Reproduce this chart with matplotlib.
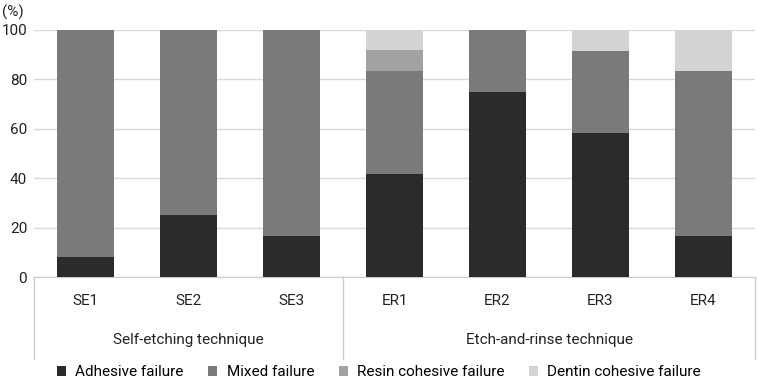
import matplotlib.pyplot as plt
import numpy as np
from matplotlib.transforms import blended_transform_factory

plt.rcParams['font.family'] = ['Roboto', 'DejaVu Sans']

# 数据
groups = ['SE1', 'SE2', 'SE3', 'ER1', 'ER2', 'ER3', 'ER4']
techniques = ['Self-etching technique', 'Etch-and-rinse technique']
technique_spans = [(0, 2), (3, 6)]
adhesive = [8.3, 25.0, 16.7, 41.7, 75.0, 58.3, 16.7]
mixed = [91.7, 75.0, 83.3, 41.7, 25.0, 33.3, 66.7]
resin = [0, 0, 0, 8.3, 0, 0, 0]
dentin = [0, 0, 0, 8.3, 0, 8.3, 16.7]
series = [('Adhesive failure', adhesive, '#2b2b2b'),
          ('Mixed failure', mixed, '#7a7a7c'),
          ('Resin cohesive failure', resin, '#a2a2a2'),
          ('Dentin cohesive failure', dentin, '#d3d3d3')]

fig = plt.figure(figsize=(7.58, 3.78), dpi=100)
ax = fig.add_axes([0.045, 0.267, 0.951, 0.654])

x = np.arange(len(groups))
bottom = np.zeros(len(groups))
for name, vals, col in series:
    ax.bar(x, vals, 0.55, bottom=bottom, color=col, label=name, zorder=3)
    bottom += np.array(vals)

ax.set_xlim(-0.5, len(groups) - 0.5)
ax.set_ylim(0, 100)
ax.set_yticks([0, 20, 40, 60, 80, 100])
ax.tick_params(axis='y', length=0, labelsize=11, colors='#222222', pad=5)
ax.grid(axis='y', color='#d9d9d9', linewidth=1, zorder=0)
for s in ['top', 'right', 'left']:
    ax.spines[s].set_visible(False)
ax.spines['bottom'].set_color('#cccccc')
ax.set_xticks([])

# 分组标签
trans = blended_transform_factory(ax.transData, ax.transAxes)
for i, g in enumerate(groups):
    ax.text(i, -0.095, g, transform=trans, ha='center', va='center',
            fontsize=11, color='#222222')
for t, (a, b) in zip(techniques, technique_spans):
    ax.text((a + b) / 2, -0.255, t, transform=trans, ha='center', va='center',
            fontsize=11, color='#222222')
for xs in [-0.5, 2.5, 6.5]:
    ax.plot([xs, xs], [0, -0.33], transform=trans, color='#cccccc',
            linewidth=1, clip_on=False)

ax.text(-0.045, 1.07, '(%)', transform=ax.transAxes, ha='left', va='center',
        fontsize=11, color='#222222')

fig.legend(loc='lower center', bbox_to_anchor=(0.5, -0.04), ncol=4,
           frameon=False, fontsize=11, handlelength=0.6, handleheight=0.6,
           columnspacing=1.6, handletextpad=0.6)

fig.savefig('out.png', dpi=100)
